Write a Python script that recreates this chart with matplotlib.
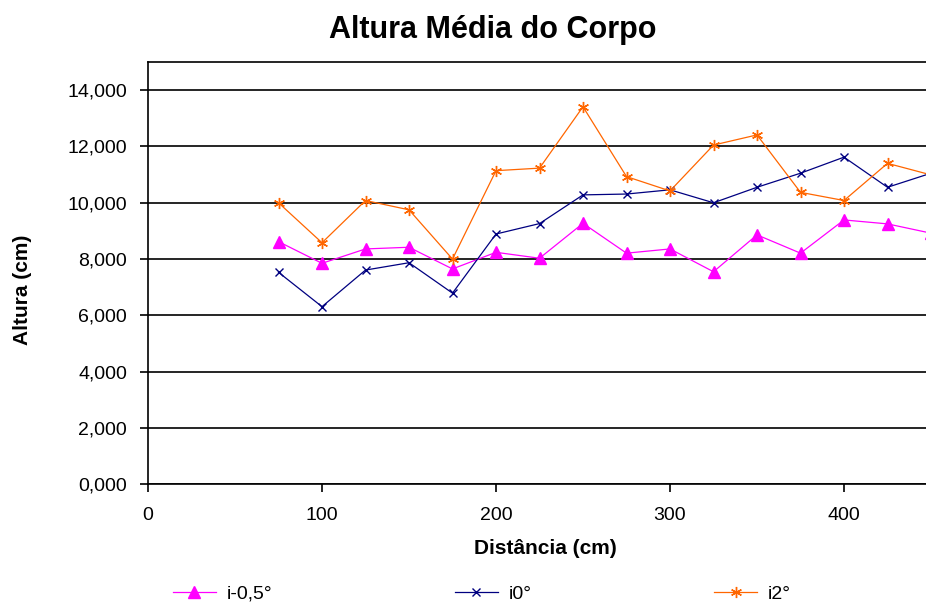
import numpy as np
import matplotlib.pyplot as plt
from matplotlib.ticker import FuncFormatter

plt.rcParams['font.family'] = ['Liberation Sans', 'DejaVu Sans']

# distance (cm) and mean body height per inclination
distancia = [75, 100, 125, 150, 175, 200, 225, 250, 275, 300, 325, 350, 375, 400, 425, 450]
i_menos05 = [8.62, 7.85, 8.36, 8.42, 7.65, 8.24, 8.03, 9.27, 8.21, 8.36, 7.55, 8.86, 8.21, 9.39, 9.25, 8.92]
i0 = [7.53, 6.31, 7.61, 7.87, 6.79, 8.89, 9.26, 10.28, 10.31, 10.46, 10.00, 10.55, 11.05, 11.62, 10.55, 11.05]
i2 = [10.00, 8.58, 10.08, 9.75, 8.00, 11.14, 11.23, 13.41, 10.93, 10.42, 12.05, 12.41, 10.37, 10.08, 11.40, 10.99]
nomes = ['i-0,5°', 'i0°', 'i2°']

fig = plt.figure(figsize=(9.26, 6.04), dpi=100)
ax = fig.add_axes([148 / 926, 1 - 484.3 / 604, (931 - 148) / 926, (484.3 - 62) / 604])

ax.plot(distancia, i_menos05, color='#FF00FF', lw=0.9, marker='^', ms=8, label=nomes[0])
ax.plot(distancia, i0, color='#000080', lw=0.9, marker='x', ms=6, mew=1.0, label=nomes[1])
ax.plot(distancia, i2, color='#FF6600', lw=0.9, marker=(6, 2, 0), ms=8, mew=1.0, label=nomes[2])

ax.set_xlim(0, 450)
ax.set_ylim(0, 15)
ax.set_xticks([0, 100, 200, 300, 400])
ax.set_yticks(np.arange(0, 15, 2))
ax.yaxis.set_major_formatter(FuncFormatter(lambda v, p: f"{v:.3f}".replace('.', ',')))
ax.grid(axis='y', color='black', lw=1.2)
ax.set_axisbelow(True)
for s in ax.spines.values():
    s.set_color('black')
    s.set_linewidth(1.2)
ax.tick_params(axis='both', labelsize=14, length=6, width=1.2, direction='out', color='black')
ax.tick_params(axis='x', pad=10)
ax.tick_params(axis='y', pad=9)

ax.set_xlabel('Distância (cm)', fontsize=15, fontweight='bold')
ax.xaxis.label.set_va('center')
ax.xaxis.set_label_coords((545 - 148) / 783, (484.3 - 548) / 422.3)
ax.set_ylabel('Altura (cm)', fontsize=15, fontweight='bold')
ax.yaxis.label.set_va('center')
ax.yaxis.set_label_coords((22.7 - 148) / 783, (484.3 - 289.5) / 422.3)

fig.text(493 / 926, 1 - 30 / 604, 'Altura Média do Corpo', fontsize=22, fontweight='bold',
         ha='center', va='center')

fig.legend(loc='center left', bbox_to_anchor=(173 / 926, 1 - 594 / 604), ncol=3, frameon=False,
           fontsize=14, handlelength=2.2, handletextpad=0.55, columnspacing=9.4,
           borderpad=0, borderaxespad=0)

fig.savefig('out.png', dpi=100)
